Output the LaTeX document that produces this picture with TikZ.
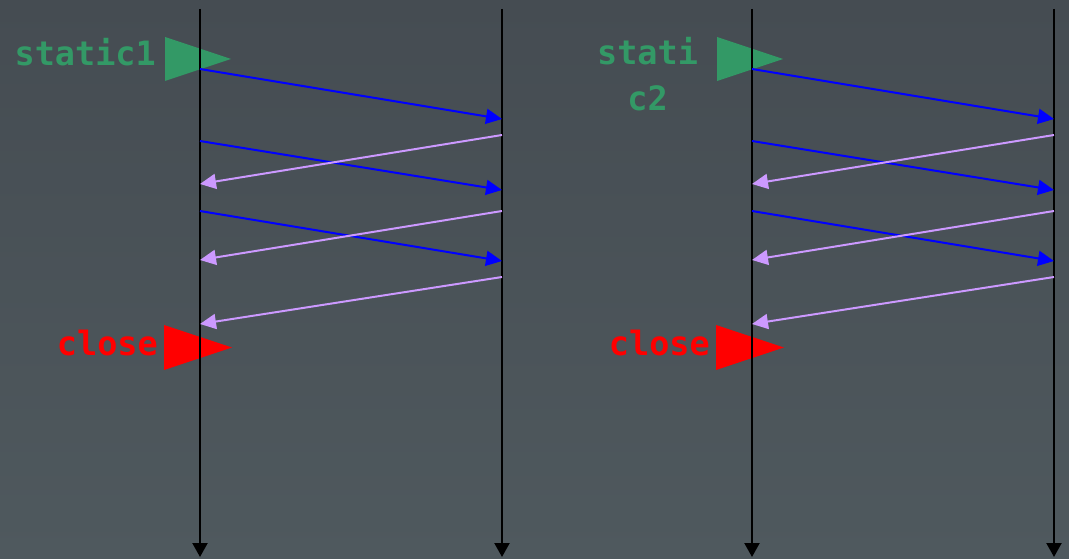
\documentclass[tikz,border=0pt]{standalone}
\usepackage{fontspec}
\newfontfamily\monofont{DejaVu Sans Mono}
\usetikzlibrary{arrows.meta}
\definecolor{bgtop}{HTML}{454C52}
\definecolor{bgbot}{HTML}{4F595E}
\definecolor{grn}{HTML}{339966}
\definecolor{lav}{HTML}{CC99FF}
\definecolor{msgblue}{HTML}{0000FF}
\tikzset{
  life/.style={line width=2.2pt,black,-{Triangle[length=14pt,width=15pt]}},
  req/.style={line width=2pt,msgblue,-{Triangle[length=16pt,width=15pt]}},
  resp/.style={line width=2pt,lav,-{Triangle[length=16pt,width=15pt]}},
  lbl/.style={inner sep=0pt,font=\monofont\bfseries\fontsize{33.5}{46}\selectfont},
}
\begin{document}
\begin{tikzpicture}[x=1pt,y=-1pt]
\shade[top color=bgtop,bottom color=bgbot] (0,0) rectangle (1069,559);
\useasboundingbox (0,0) rectangle (1069,559);
\foreach \d/\s in {0/A,552/B}{
  % lifelines
  \coordinate (\s c) at (200+\d,9);
  \coordinate (\s cb) at (200+\d,557);
  \coordinate (\s s) at (502+\d,9);
  \coordinate (\s sb) at (502+\d,557);
  % start / close markers
  \fill[grn] (165+\d,37) -- (231+\d,59) -- (165+\d,81) -- cycle;
  \fill[red] (164+\d,325) -- (232+\d,347.5) -- (164+\d,370) -- cycle;
  \draw[life] (\s c) -- (\s cb);
  \draw[life] (\s s) -- (\s sb);
  % messages
  \coordinate (\s r1a) at (200+\d,69);  \coordinate (\s r1b) at (502+\d,119);
  \coordinate (\s r2a) at (200+\d,141); \coordinate (\s r2b) at (502+\d,190);
  \coordinate (\s r3a) at (200+\d,211); \coordinate (\s r3b) at (502+\d,261);
  \coordinate (\s p1a) at (502+\d,135); \coordinate (\s p1b) at (200+\d,184);
  \coordinate (\s p2a) at (502+\d,211); \coordinate (\s p2b) at (200+\d,260);
  \coordinate (\s p3a) at (502+\d,277); \coordinate (\s p3b) at (200+\d,324);
  \draw[req] (\s r1a) -- (\s r1b);
  \draw[req] (\s r2a) -- (\s r2b);
  \draw[req] (\s r3a) -- (\s r3b);
  \draw[resp] (\s p1a) -- (\s p1b);
  \draw[resp] (\s p2a) -- (\s p2b);
  \draw[resp] (\s p3a) -- (\s p3b);
  \node[lbl,red,anchor=base east] (\s close) at (158+\d,355) {close};
}
\node[lbl,grn,anchor=base east] (s1) at (156,66) {static1};
\node[lbl,grn,align=center,anchor=base] (s2) at (647.5,111) {stati\\c2};
\end{tikzpicture}
\end{document}
